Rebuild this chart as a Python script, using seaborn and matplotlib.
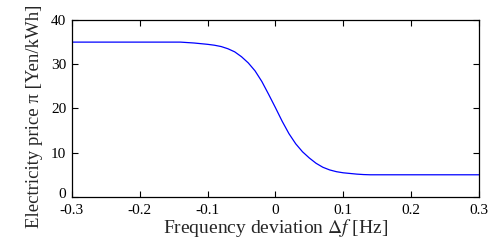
import numpy as np
import pandas as pd
import matplotlib
matplotlib.use("Agg")
import matplotlib.pyplot as plt
import matplotlib.transforms as mtransforms
import seaborn as sns

freq_dev = [-0.30, -0.20, -0.14, -0.12, -0.10, -0.09, -0.08, -0.07, -0.06, -0.05,
            -0.04, -0.03, -0.02, -0.01, 0.00, 0.01, 0.02, 0.03, 0.04, 0.05,
            0.06, 0.07, 0.08, 0.09, 0.10, 0.11, 0.12, 0.13, 0.14, 0.20, 0.30]
price = [35.0, 35.0, 35.0, 34.8, 34.5, 34.3, 34.0, 33.5, 32.8, 31.7,
         30.3, 28.5, 26.1, 23.2, 20.2, 17.1, 14.3, 12.0, 10.2, 8.8,
         7.6, 6.7, 6.1, 5.7, 5.45, 5.3, 5.15, 5.05, 5.0, 5.0, 5.0]
x_ticks = [-0.3, -0.2, -0.1, 0, 0.1, 0.2, 0.3]
x_tick_labels = ["-0.3", "-0.2", "-0.1", "0", "0.1", "0.2", "0.3"]
y_ticks = [0, 10, 20, 30, 40]

sns.set_theme(style="ticks")
plt.rcParams["font.family"] = ["Liberation Serif", "DejaVu Serif"]
plt.rcParams["mathtext.fontset"] = "stix"

df = pd.DataFrame({"x": freq_dev, "y": price})
fig = plt.figure(figsize=(5.03, 2.41), dpi=100)
ax = fig.add_axes([0.143, 0.183, 0.809, 0.734])
sns.lineplot(data=df, x="x", y="y", ax=ax, color="#0000ff", linewidth=0.9)

ax.set_xlim(-0.3, 0.3)
ax.set_ylim(0, 40)
ax.set_xticks(x_ticks)
ax.set_xticklabels(x_tick_labels)
ax.set_yticks(y_ticks)
ax.tick_params(direction="in", length=4, width=0.8, top=True, right=True,
               labelsize=11, colors="black", pad=4)
ax.tick_params(axis="x", pad=5)
for s in ax.spines.values():
    s.set_color("black")
    s.set_linewidth(0.9)
ax.set_xlabel(r"Frequency deviation $\Delta f$ [Hz]", fontsize=14, labelpad=0)
ax.set_ylabel("Electricity price π [Yen/kWh]", fontsize=13.5)
ax.yaxis.set_label_coords(-0.091, 0.455)
ax.yaxis.label.set_verticalalignment("center")

fig.canvas.draw()
zero_lbl = ax.get_yticklabels()[0]
zero_lbl.set_transform(zero_lbl.get_transform() +
                       mtransforms.ScaledTranslation(0, 4 / 100, fig.dpi_scale_trans))
fig.savefig("out.png", dpi=100)
